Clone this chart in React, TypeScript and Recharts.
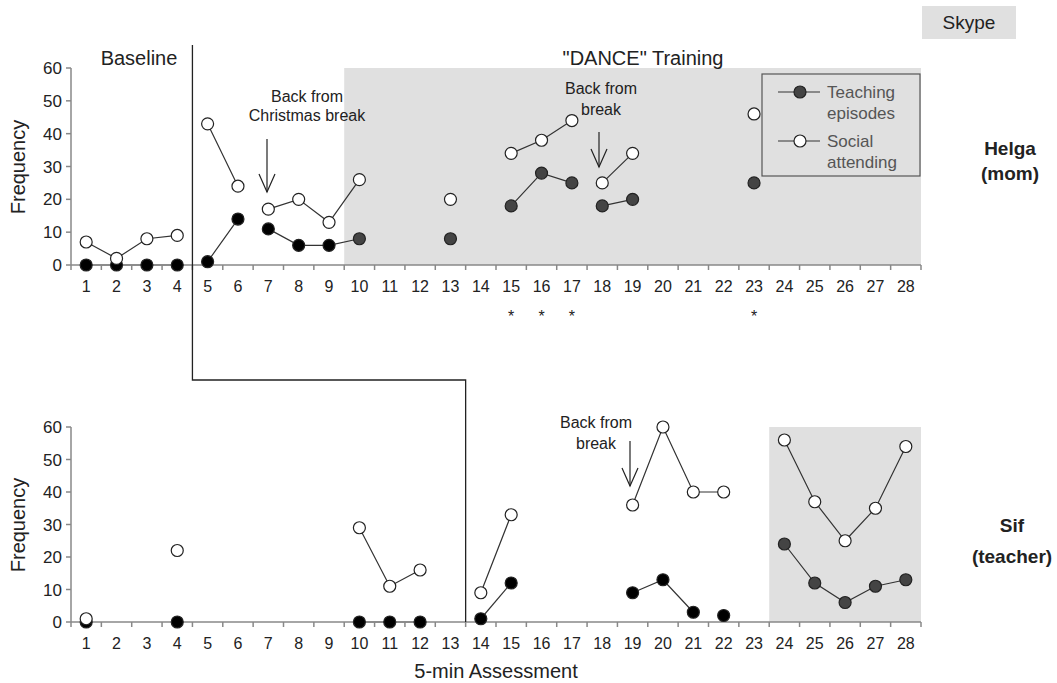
import React from 'react';
import { LineChart, Line, XAxis, YAxis, ReferenceArea } from 'recharts';

// ---------- data ----------
const sessions = [1,2,3,4,5,6,7,8,9,10,11,12,13,14,15,16,17,18,19,20,21,22,23,24,25,26,27,28];
const yTicks = [0,10,20,30,40,50,60];

const helgaTeaching = [0,0,0,0,1,14,11,6,6,8,null,null,8,null,18,28,25,18,20,null,null,null,25,null,null,null,null,null];
const helgaSocial   = [7,2,8,9,43,24,17,20,13,26,null,null,20,null,34,38,44,25,34,null,null,null,46,null,null,null,null,null];
const helgaTeachingBreaks = [4,6,17];
const helgaSocialBreaks = [4,6,17];
const helgaStars = [15,16,17,23];
const helgaTrainingStart = 10;
const helgaPhaseChange = 4.5;

const sifTeaching = [0,null,null,0,null,null,null,null,null,0,0,0,null,1,12,null,null,null,9,13,3,2,null,24,12,6,11,13];
const sifSocial   = [1,null,null,22,null,null,null,null,null,29,11,16,null,9,33,null,null,null,36,60,40,40,null,56,37,25,35,54];
const sifTeachingBreaks = [21];
const sifSocialBreaks: number[] = [];
const sifStars: number[] = [];
const sifTrainingStart = 24;
const sifPhaseChange = 13.5;

// ---------- layout ----------
const FONT = '"Liberation Sans", Arial, sans-serif';
const W = 1057;
const PLOT_L = 71;
const PLOT_R = 921;
const STEP = (PLOT_R - PLOT_L) / sessions.length;
const xOf = (v: number) => PLOT_L + (v - 0.5) * STEP;
const SHADE = '#e0e0e0';

function splitSegments(values: (number | null)[], breaksAfter: number[]) {
  const a: (number | null)[] = [];
  const b: (number | null)[] = [];
  let seg = -1;
  let prevNull = true;
  values.forEach((v, i) => {
    if (v == null) { a.push(null); b.push(null); prevNull = true; return; }
    if (prevNull || breaksAfter.includes(sessions[i - 1])) seg++;
    prevNull = false;
    if (seg % 2 === 0) { a.push(v); b.push(null); } else { a.push(null); b.push(v); }
  });
  return [a, b];
}

function buildRows(teach: (number | null)[], soc: (number | null)[], tb: number[], sb: number[]) {
  const [t0, t1] = splitSegments(teach, tb);
  const [s0, s1] = splitSegments(soc, sb);
  return sessions.map((s, i) => ({ s, t0: t0[i], t1: t1[i], s0: s0[i], s1: s1[i] }));
}

const helgaRows = buildRows(helgaTeaching, helgaSocial, helgaTeachingBreaks, helgaSocialBreaks);
const sifRows = buildRows(sifTeaching, sifSocial, sifTeachingBreaks, sifSocialBreaks);

const makeDot = (key: string, fillFor: (s: number) => string) => (props: any) => {
  const { cx, cy, payload, index } = props;
  if (cx == null || cy == null || payload == null || payload[key] == null) return <g key={`${key}-${index}`} />;
  return <circle key={`${key}-${index}`} cx={cx} cy={cy} r={6} fill={fillFor(payload.s)} stroke="#222" strokeWidth={1.2} />;
};

const makeXTick = (stars: number[]) => (props: any) => {
  const { x, y, payload } = props;
  const v = payload.value;
  return (
    <g>
      <line x1={x - STEP / 2} x2={x - STEP / 2} y1={y} y2={y + 5} stroke="#888" strokeWidth={1.5} />
      {v === sessions[sessions.length - 1] && (
        <line x1={x + STEP / 2} x2={x + STEP / 2} y1={y} y2={y + 5} stroke="#888" strokeWidth={1.5} />
      )}
      <text x={x} y={y + 27} textAnchor="middle" fontSize={16} fill="#222" fontFamily={FONT}>{v}</text>
      {stars.includes(v) && (
        <text x={x} y={y + 57} textAnchor="middle" fontSize={16} fill="#222" fontFamily={FONT}>*</text>
      )}
    </g>
  );
};

function Panel(props: {
  rows: any[]; top: number; height: number; marginTop: number; marginBottom: number;
  trainingStart: number; stars: number[];
}) {
  const { rows, top, height, marginTop, marginBottom, trainingStart, stars } = props;
  const teachFill = (s: number) => (s >= trainingStart ? '#444' : '#000');
  return (
    <div style={{ position: 'absolute', left: 0, top }}>
      <LineChart width={W} height={height} data={rows}
        margin={{ top: marginTop, right: W - PLOT_R, bottom: marginBottom, left: PLOT_L - 40 }}>
        <ReferenceArea x1={trainingStart - 0.5} x2={sessions.length + 0.5} y1={0} y2={60}
          fill={SHADE} fillOpacity={1} stroke="none" ifOverflow="visible" />
        <XAxis dataKey="s" type="number" domain={[0.5, sessions.length + 0.5]} ticks={sessions}
          allowDataOverflow tickLine={false} tickSize={0} tickMargin={0} height={30}
          axisLine={{ stroke: '#888', strokeWidth: 1.5 }} tick={makeXTick(stars)} interval={0} />
        <YAxis type="number" domain={[0, 60]} ticks={yTicks} width={40} interval={0}
          axisLine={{ stroke: '#888', strokeWidth: 1.5 }} tickLine={{ stroke: '#888', strokeWidth: 1.5 }}
          tickSize={5} tickMargin={4}
          tick={{ fontSize: 17, fill: '#222', fontFamily: FONT }} />
        {['t0', 't1'].map((k) => (
          <Line key={k} dataKey={k} stroke="#333" strokeWidth={1.2} isAnimationActive={false}
            connectNulls={false} dot={makeDot(k, teachFill)} activeDot={false} type="linear" />
        ))}
        {['s0', 's1'].map((k) => (
          <Line key={k} dataKey={k} stroke="#333" strokeWidth={1.2} isAnimationActive={false}
            connectNulls={false} dot={makeDot(k, () => '#fff')} activeDot={false} type="linear" />
        ))}
      </LineChart>
    </div>
  );
}

function Overlay() {
  const px1 = xOf(helgaPhaseChange);
  const px2 = xOf(sifPhaseChange);
  const t = { fontFamily: FONT, fill: '#222' } as const;
  const arrow = (x: number, y1: number, y2: number) => (
    <g stroke="#222" strokeWidth={1.2} fill="none">
      <line x1={x} x2={x} y1={y1} y2={y2} />
      <polyline points={`${x - 8},${y2 - 18} ${x},${y2} ${x + 8},${y2 - 18}`} />
    </g>
  );
  return (
    <svg width={W} height={683} style={{ position: 'absolute', left: 0, top: 0, pointerEvents: 'none' }}>
      {/* phase change line */}
      <polyline points={`${px1},45 ${px1},380 ${px2},380 ${px2},622`} fill="none" stroke="#222" strokeWidth={1.3} />
      {/* phase labels */}
      <text x={139} y={65} textAnchor="middle" fontSize={20} {...t}>Baseline</text>
      <text x={643} y={65} textAnchor="middle" fontSize={20} {...t}>"DANCE" Training</text>
      {/* Skype box */}
      <rect x={922} y={6} width={94} height={33} fill={SHADE} />
      <text x={969} y={29} textAnchor="middle" fontSize={19} {...t}>Skype</text>
      {/* participant labels */}
      <text x={1010} y={155} textAnchor="middle" fontSize={19} fontWeight="bold" {...t}>Helga</text>
      <text x={1010} y={180} textAnchor="middle" fontSize={19} fontWeight="bold" {...t}>(mom)</text>
      <text x={1012} y={532} textAnchor="middle" fontSize={19} fontWeight="bold" {...t}>Sif</text>
      <text x={1012} y={563} textAnchor="middle" fontSize={19} fontWeight="bold" {...t}>(teacher)</text>
      {/* y axis titles */}
      <text transform="translate(25,167) rotate(-90)" textAnchor="middle" fontSize={20} {...t}>Frequency</text>
      <text transform="translate(25,525) rotate(-90)" textAnchor="middle" fontSize={20} {...t}>Frequency</text>
      {/* x axis title */}
      <text x={496} y={678} textAnchor="middle" fontSize={20} {...t}>5-min Assessment</text>
      {/* annotations */}
      <text x={307} y={102} textAnchor="middle" fontSize={16} {...t}>Back from</text>
      <text x={307} y={121} textAnchor="middle" fontSize={16} {...t}>Christmas break</text>
      {arrow(267, 139, 192)}
      <text x={601} y={94} textAnchor="middle" fontSize={16} {...t}>Back from</text>
      <text x={601} y={115} textAnchor="middle" fontSize={16} {...t}>break</text>
      {arrow(599, 132, 167)}
      <text x={596} y={428} textAnchor="middle" fontSize={16} {...t}>Back from</text>
      <text x={596} y={449} textAnchor="middle" fontSize={16} {...t}>break</text>
      {arrow(630, 441, 486)}
      {/* legend */}
      <rect x={762} y={74} width={158} height={102} fill={SHADE} stroke="#555" strokeWidth={1.2} />
      <line x1={778} x2={820} y1={92} y2={92} stroke="#333" strokeWidth={1.2} />
      <circle cx={800} cy={92} r={6} fill="#444" stroke="#222" strokeWidth={1.2} />
      <text x={827} y={98} fontSize={17} fontFamily={FONT} fill="#555">Teaching</text>
      <text x={827} y={119} fontSize={17} fontFamily={FONT} fill="#555">episodes</text>
      <line x1={778} x2={820} y1={141} y2={141} stroke="#333" strokeWidth={1.2} />
      <circle cx={800} cy={141} r={6} fill="#fff" stroke="#222" strokeWidth={1.2} />
      <text x={827} y={147} fontSize={17} fontFamily={FONT} fill="#555">Social</text>
      <text x={827} y={168} fontSize={17} fontFamily={FONT} fill="#555">attending</text>
    </svg>
  );
}

export default function App() {
  return (
    <div style={{ position: 'absolute', left: 0, top: 0, width: W, height: 683, background: '#fff', fontFamily: FONT }}>
      <Panel rows={helgaRows} top={0} height={340} marginTop={68} marginBottom={45}
        trainingStart={helgaTrainingStart} stars={helgaStars} />
      <Panel rows={sifRows} top={360} height={323} marginTop={67} marginBottom={31}
        trainingStart={sifTrainingStart} stars={sifStars} />
      <Overlay />
    </div>
  );
}
